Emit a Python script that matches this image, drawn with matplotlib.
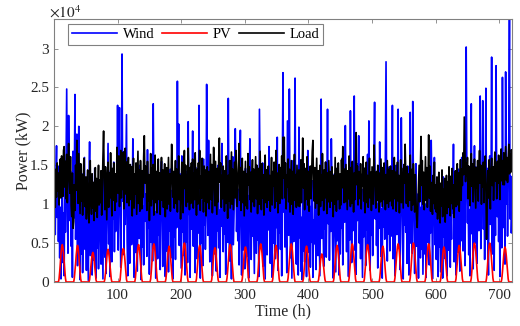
import numpy as np
import matplotlib
matplotlib.use("Agg")
import matplotlib.pyplot as plt
from matplotlib.ticker import FuncFormatter, MultipleLocator

# hourly values over 30 days, in 10^3 kW (one row per day)
wind_k = [
    [10.2, 6.1, 13.4, 17.5, 8.3, 14.9, 5.2, 11.8, 3.1, 9.6, 0.4, 7.7, 12.3, 2.5, 8.9, 0.8, 13.6, 6.4, 15.2, 24.8, 9.1, 3.7, 21.4, 12.6],
    [7.9, 14.2, 4.6, 11.3, 0.6, 16.8, 8.2, 13.1, 24.1, 5.5, 10.7, 19.0, 2.1, 12.4, 20.0, 6.8, 0.3, 9.4, 3.6, 13.9, 1.2, 7.3, 11.6, 16.0],
    [4.2, 9.8, 1.5, 12.7, 6.3, 0.2, 10.9, 18.0, 3.4, 8.6, 13.2, 0.9, 5.7, 11.4, 2.8, 14.6, 7.1, 0.5, 9.3, 4.4, 12.1, 1.7, 6.9, 10.5],
    [8.4, 2.3, 11.7, 5.9, 0.4, 13.5, 7.6, 3.2, 10.1, 1.1, 6.7, 12.8, 17.8, 4.9, 9.5, 0.7, 14.3, 6.2, 2.6, 11.2, 8.1, 15.4, 3.9, 12.9],
    [6.5, 13.8, 9.2, 22.7, 4.1, 15.6, 22.4, 8.8, 1.9, 12.2, 29.3, 10.4, 16.7, 3.5, 11.1, 7.4, 14.8, 21.5, 5.3, 0.8, 13.0, 8.7, 2.4, 10.6],
    [12.5, 4.8, 9.9, 18.4, 7.2, 0.6, 13.3, 3.8, 11.5, 6.1, 1.4, 10.2, 14.1, 5.6, 15.0, 8.9, 0.3, 12.0, 4.5, 9.7, 2.2, 13.6, 7.8, 11.3],
    [9.1, 3.3, 17.0, 6.9, 12.6, 1.0, 10.8, 5.1, 14.4, 8.0, 2.7, 22.9, 11.9, 4.3, 9.0, 0.5, 13.7, 7.0, 3.0, 12.3, 6.0, 10.0, 1.6, 14.0],
    [15.5, 8.6, 2.0, 11.0, 5.4, 13.4, 0.7, 9.6, 4.0, 12.4, 7.5, 1.3, 10.3, 6.6, 14.5, 3.1, 8.3, 11.8, 0.4, 13.0, 5.8, 9.4, 2.9, 12.1],
    [7.0, 25.8, 10.6, 20.3, 4.7, 13.9, 8.2, 1.8, 16.2, 6.4, 11.6, 3.4, 12.8, 0.9, 9.8, 5.2, 14.2, 2.5, 20.6, 8.7, 11.4, 0.6, 13.3, 6.8],
    [10.9, 19.4, 4.6, 12.7, 7.9, 1.2, 14.7, 9.3, 3.0, 11.5, 6.3, 22.7, 8.5, 0.5, 13.1, 5.0, 10.4, 2.1, 15.8, 7.3, 12.0, 4.2, 9.0, 25.4],
    [11.7, 6.0, 18.2, 9.6, 2.6, 13.6, 5.5, 10.1, 0.8, 14.0, 7.7, 3.6, 12.2, 8.9, 1.4, 11.0, 6.6, 15.0, 4.4, 9.2, 0.6, 12.6, 7.2, 17.8],
    [8.0, 3.9, 12.9, 6.2, 10.7, 1.0, 14.9, 9.7, 5.1, 23.6, 11.3, 2.7, 13.5, 7.1, 0.4, 10.2, 16.1, 4.8, 8.8, 12.4, 19.7, 14.4, 6.5, 9.9],
    [5.3, 11.9, 2.2, 13.8, 19.5, 7.6, 0.9, 10.5, 4.1, 12.7, 8.4, 1.7, 14.6, 6.0, 9.5, 3.3, 11.1, 0.5, 13.2, 18.4, 7.8, 2.9, 10.8, 5.9],
    [12.1, 6.9, 1.1, 14.2, 8.1, 3.7, 11.6, 5.4, 9.8, 0.7, 22.2, 13.0, 4.3, 10.0, 7.4, 15.3, 2.0, 12.5, 6.1, 0.4, 11.2, 8.6, 3.5, 13.7],
    [6.7, 17.4, 10.3, 2.4, 13.1, 8.2, 0.6, 11.7, 5.0, 14.1, 9.2, 3.0, 12.6, 7.0, 18.6, 1.5, 10.9, 6.3, 13.4, 4.2, 11.8, 0.8, 15.1, 26.9],
    [9.0, 14.8, 4.5, 11.4, 7.3, 1.2, 20.7, 12.9, 6.0, 24.8, 10.1, 3.1, 13.6, 0.5, 8.7, 15.6, 5.2, 11.0, 26.2, 7.9, 2.3, 12.3, 9.4, 0.9],
    [19.9, 5.7, 10.6, 1.4, 8.3, 0.3, 12.2, 4.0, 9.1, 2.6, 13.9, 6.4, 0.7, 10.4, 16.9, 3.8, 7.6, 11.5, 1.9, 9.7, 5.1, 13.0, 0.6, 8.0],
    [4.9, 11.3, 7.0, 1.6, 13.5, 9.3, 3.4, 12.0, 6.2, 0.8, 10.7, 23.5, 5.6, 14.3, 8.1, 2.0, 11.9, 6.8, 15.4, 3.2, 9.9, 22.2, 7.5, 12.8],
    [2.8, 10.1, 6.5, 18.4, 12.4, 4.6, 0.5, 9.0, 13.9, 7.2, 1.3, 11.6, 5.3, 14.7, 8.4, 0.9, 12.1, 3.6, 10.5, 6.9, 15.9, 2.2, 9.6, 13.1],
    [7.7, 20.1, 11.0, 3.9, 14.0, 8.8, 0.7, 12.7, 5.4, 22.0, 9.5, 2.5, 13.3, 6.6, 10.9, 23.9, 4.1, 12.0, 1.0, 15.2, 7.9, 11.4, 18.8, 5.0],
    [10.8, 3.0, 13.2, 7.4, 0.6, 11.9, 5.8, 14.6, 9.0, 2.1, 12.5, 6.7, 16.4, 4.3, 20.7, 8.5, 1.5, 11.1, 6.0, 13.8, 3.4, 10.2, 15.7, 23.1],
    [8.1, 12.9, 4.7, 10.0, 1.8, 14.1, 6.9, 18.0, 11.5, 3.3, 9.4, 0.5, 13.6, 7.1, 12.3, 5.5, 16.6, 28.3, 9.8, 2.7, 11.7, 6.2, 14.8, 4.0],
    [12.6, 5.9, 9.1, 22.7, 3.0, 13.4, 7.8, 0.8, 11.2, 15.0, 6.1, 10.6, 22.2, 4.4, 12.0, 1.6, 8.9, 21.1, 13.7, 5.2, 0.4, 10.3, 7.3, 14.2],
    [6.4, 11.8, 2.4, 14.9, 8.6, 0.9, 12.1, 21.8, 5.0, 10.4, 3.7, 23.2, 13.0, 7.0, 1.1, 9.9, 15.2, 4.6, 11.3, 6.8, 0.5, 12.7, 8.2, 3.1],
    [9.6, 4.2, 12.3, 1.0, 7.5, 13.1, 3.6, 10.0, 0.6, 8.8, 11.9, 5.1, 14.0, 2.2, 9.2, 6.3, 18.2, 12.5, 0.4, 7.0, 10.7, 16.0, 4.8, 11.1],
    [2.9, 10.2, 6.6, 0.7, 12.8, 4.5, 8.1, 1.3, 11.4, 7.2, 0.5, 13.5, 5.8, 9.4, 3.0, 12.0, 6.9, 0.8, 10.9, 4.1, 14.2, 7.7, 1.9, 9.0],
    [5.5, 12.4, 8.9, 17.7, 2.6, 11.0, 6.4, 0.9, 13.6, 9.7, 3.8, 14.5, 7.1, 1.4, 10.8, 5.3, 16.0, 12.2, 4.0, 8.5, 13.9, 2.1, 11.6, 30.2],
    [14.4, 7.6, 11.2, 3.5, 9.3, 0.8, 13.0, 22.9, 6.2, 12.7, 1.7, 10.1, 17.5, 5.0, 14.8, 8.3, 2.4, 11.9, 15.6, 6.6, 12.2, 23.9, 4.3, 9.8],
    [10.5, 23.3, 6.8, 13.3, 2.9, 11.6, 24.9, 8.0, 14.6, 4.7, 0.9, 12.5, 16.2, 7.4, 10.9, 28.9, 3.6, 13.8, 9.2, 1.5, 15.3, 6.0, 27.8, 11.7],
    [8.4, 14.0, 5.2, 12.1, 0.7, 9.9, 16.8, 4.4, 26.3, 11.3, 7.0, 13.2, 2.3, 27.0, 10.0, 15.5, 5.9, 12.8, 18.9, 33.8, 8.1, 13.6, 6.3, 8.9],
]

load_k = [
    [12.8, 9.6, 14.5, 10.9, 15.3, 11.7, 14.0, 9.9, 13.2, 15.8, 10.8, 16.2, 12.6, 11.0, 16.9, 17.4, 12.2, 15.5, 10.7, 16.4, 10.2, 14.6, 17.8, 13.5],
    [11.4, 16.1, 9.8, 8.4, 14.0, 6.9, 7.8, 12.5, 9.2, 15.0, 11.8, 18.2, 13.9, 10.1, 16.5, 12.3, 8.8, 15.2, 10.4, 13.8, 8.6, 12.9, 15.9, 10.6],
    [9.7, 13.5, 8.1, 12.6, 14.4, 9.0, 7.6, 12.9, 15.6, 10.3, 8.7, 13.9, 9.5, 12.8, 7.9, 11.9, 14.7, 9.1, 13.3, 8.3, 11.6, 15.0, 9.9, 13.1],
    [10.2, 14.3, 8.6, 12.7, 16.1, 19.4, 12.9, 9.3, 14.8, 11.2, 8.0, 13.6, 15.4, 9.6, 14.0, 10.8, 16.6, 11.9, 8.5, 14.6, 10.5, 15.3, 12.4, 9.2],
    [13.9, 10.3, 17.3, 14.6, 11.4, 16.2, 9.7, 14.1, 16.9, 10.8, 15.7, 11.9, 16.7, 9.4, 14.5, 17.2, 11.3, 15.4, 10.2, 13.4, 16.0, 9.8, 12.9, 15.1],
    [10.6, 14.8, 8.5, 13.2, 15.9, 9.5, 13.9, 11.3, 15.3, 8.7, 12.5, 16.8, 10.1, 14.4, 9.1, 15.6, 12.2, 9.4, 14.3, 10.9, 16.1, 18.8, 12.7, 14.9],
    [12.9, 9.2, 15.5, 10.4, 13.8, 7.9, 12.6, 16.5, 9.8, 14.6, 10.7, 15.1, 8.6, 12.1, 16.3, 10.2, 14.2, 8.9, 13.0, 15.8, 10.6, 14.0, 8.7, 12.3],
    [16.0, 10.5, 14.4, 9.6, 13.3, 15.2, 8.4, 12.4, 14.7, 9.4, 12.8, 16.0, 10.0, 13.9, 9.1, 13.0, 17.7, 14.6, 10.9, 14.2, 9.5, 12.9, 15.6, 10.1],
    [14.5, 9.0, 13.1, 16.2, 10.6, 13.7, 8.1, 12.5, 15.4, 10.8, 8.9, 14.1, 16.9, 12.0, 15.0, 9.7, 13.8, 10.3, 17.2, 12.8, 9.3, 14.7, 10.1, 15.3],
    [11.7, 15.8, 9.5, 14.0, 10.6, 16.6, 12.7, 8.6, 14.5, 10.0, 15.3, 12.1, 16.9, 9.2, 13.6, 10.8, 15.9, 12.8, 9.0, 14.9, 10.4, 14.4, 8.5, 13.2],
    [14.8, 10.2, 14.2, 9.4, 13.1, 16.4, 10.6, 15.1, 8.9, 12.7, 17.3, 13.5, 9.8, 15.5, 12.1, 8.7, 14.6, 10.3, 16.0, 18.5, 12.8, 15.3, 9.6, 13.7],
    [10.7, 14.9, 12.5, 9.1, 14.3, 10.1, 16.2, 12.0, 8.2, 13.7, 10.4, 15.6, 9.5, 12.9, 16.7, 10.0, 14.5, 9.3, 12.3, 15.4, 10.8, 16.9, 13.9, 9.7],
    [12.6, 15.1, 17.8, 10.5, 14.7, 9.2, 13.2, 15.9, 10.2, 14.2, 8.5, 12.2, 15.5, 9.8, 13.9, 9.4, 16.5, 12.5, 14.8, 10.6, 14.1, 9.0, 13.0, 15.7],
    [10.3, 14.5, 9.7, 12.8, 16.1, 10.7, 15.0, 8.8, 12.4, 14.6, 10.0, 16.8, 12.9, 9.3, 15.2, 10.8, 13.8, 8.6, 12.1, 16.3, 10.2, 14.4, 9.6, 13.1],
    [14.9, 10.5, 13.7, 9.1, 12.9, 16.0, 9.9, 14.2, 12.3, 15.4, 9.5, 12.6, 16.9, 10.4, 14.0, 8.9, 13.0, 15.1, 10.1, 14.7, 12.1, 16.2, 10.7, 18.6],
    [13.4, 18.6, 10.8, 15.3, 9.4, 13.7, 12.2, 15.8, 10.3, 14.5, 9.0, 12.6, 15.6, 10.0, 14.2, 8.7, 13.0, 16.4, 10.5, 13.8, 9.6, 15.0, 12.4, 9.8],
    [14.4, 9.7, 12.5, 15.7, 10.2, 13.9, 18.5, 12.1, 15.2, 9.3, 14.6, 10.6, 13.0, 16.1, 9.9, 14.2, 9.1, 12.7, 14.9, 10.7, 13.6, 16.8, 18.2, 12.3],
    [10.4, 14.7, 9.5, 12.9, 15.9, 10.1, 14.3, 8.6, 12.5, 15.0, 9.7, 13.8, 10.5, 16.5, 12.4, 9.2, 14.4, 10.8, 15.4, 12.2, 8.8, 14.0, 10.3, 15.6],
    [12.7, 9.6, 14.2, 10.4, 14.8, 12.3, 8.4, 13.7, 10.0, 16.0, 12.8, 9.1, 14.6, 10.6, 15.3, 12.5, 9.4, 13.9, 9.9, 15.7, 12.1, 17.4, 14.2, 10.2],
    [14.5, 10.3, 15.1, 12.2, 9.3, 14.3, 10.7, 16.2, 12.6, 9.7, 14.7, 10.1, 15.5, 12.9, 9.0, 14.0, 10.6, 15.8, 19.2, 12.5, 14.9, 9.9, 14.2, 13.0],
    [10.7, 15.2, 9.4, 13.8, 12.3, 16.1, 10.4, 14.6, 8.9, 12.8, 15.4, 10.2, 13.7, 9.6, 12.6, 15.9, 10.8, 14.1, 9.2, 14.8, 12.4, 10.0, 17.6, 13.9],
    [12.2, 9.5, 14.2, 10.5, 15.0, 12.9, 9.0, 14.0, 10.3, 15.8, 12.7, 9.7, 14.7, 10.6, 15.3, 12.1, 9.3, 13.8, 10.1, 15.6, 12.5, 9.6, 14.5, 10.4],
    [14.9, 12.6, 9.8, 14.3, 9.4, 13.0, 16.0, 10.7, 14.1, 9.1, 12.8, 15.4, 10.4, 13.7, 8.9, 12.4, 15.7, 10.2, 14.6, 12.1, 9.5, 15.1, 12.7, 17.7],
    [14.2, 10.1, 14.8, 12.5, 9.7, 13.9, 10.5, 16.3, 12.2, 9.2, 14.5, 9.9, 15.2, 12.9, 9.0, 13.8, 10.6, 8.3, 7.0, 9.7, 12.6, 15.0, 10.3, 14.3],
    [18.7, 12.4, 15.6, 10.0, 14.1, 9.3, 13.0, 16.1, 10.5, 14.7, 9.6, 12.3, 18.9, 10.8, 14.9, 9.1, 12.8, 10.3, 8.7, 13.7, 10.1, 15.4, 9.4, 12.5],
    [9.0, 13.5, 8.1, 11.6, 14.1, 9.3, 7.6, 12.7, 9.8, 14.4, 8.4, 11.9, 9.2, 13.3, 7.7, 11.2, 13.7, 8.8, 12.9, 9.6, 14.8, 10.3, 8.5, 13.6],
    [10.1, 14.6, 9.4, 12.5, 8.3, 12.0, 14.3, 9.7, 13.4, 15.2, 9.9, 14.0, 9.1, 12.8, 15.7, 10.5, 14.5, 12.4, 16.6, 13.8, 21.2, 16.9, 12.9, 15.3],
    [13.7, 16.0, 10.7, 14.9, 12.6, 9.8, 14.3, 16.5, 12.3, 15.2, 10.3, 14.0, 15.8, 12.8, 9.5, 14.7, 12.1, 15.6, 10.4, 14.2, 16.9, 12.7, 15.0, 10.0],
    [14.6, 12.2, 15.4, 10.2, 13.9, 16.2, 12.5, 5.5, 9.6, 14.3, 10.8, 15.7, 12.9, 9.4, 14.5, 15.9, 12.4, 14.8, 10.5, 13.8, 16.7, 13.0, 15.1, 10.7],
    [15.5, 12.7, 16.3, 13.4, 10.6, 15.0, 17.1, 13.0, 15.6, 12.5, 16.6, 12.5, 14.9, 17.4, 13.1, 16.0, 12.8, 15.3, 17.7, 13.9, 16.4, 14.1, 17.0, 15.4],
]

# PV output for daylight hours 06:00-18:00 of each day (zero at night)
pv_day_k = [
    [0, 0.4, 1.3, 2.5, 3.6, 4.4, 4.8, 4.5, 3.7, 2.6, 1.4, 0.5, 0],
    [0, 0.5, 1.4, 2.4, 3.5, 4.3, 4.7, 4.4, 3.5, 2.4, 1.3, 0.4, 0],
    [0, 0.3, 1.1, 2.0, 2.9, 3.5, 3.8, 3.6, 3.0, 2.1, 1.1, 0.3, 0],
    [0, 0.4, 1.2, 2.2, 3.2, 3.9, 4.2, 3.8, 3.1, 2.2, 1.2, 0.4, 0],
    [0, 0.3, 1.3, 2.3, 3.4, 4.0, 4.3, 4.1, 3.3, 2.3, 1.2, 0.3, 0],
    [0, 0.5, 1.5, 2.6, 3.7, 4.5, 4.8, 4.4, 3.6, 2.5, 1.4, 0.4, 0],
    [0, 0.4, 1.4, 2.6, 3.8, 4.6, 4.9, 4.6, 3.8, 2.7, 1.5, 0.5, 0],
    [0, 0.4, 1.3, 2.4, 3.5, 4.2, 4.6, 4.3, 3.5, 2.4, 1.3, 0.4, 0],
    [0, 0.5, 1.5, 2.7, 3.9, 4.7, 5.0, 4.7, 3.9, 2.7, 1.5, 0.5, 0],
    [0, 0.4, 1.4, 2.5, 3.6, 4.4, 4.7, 4.4, 3.6, 2.5, 1.3, 0.4, 0],
    [0, 0.3, 1.2, 2.3, 3.4, 4.1, 4.4, 4.2, 3.3, 2.3, 1.2, 0.3, 0],
    [0, 0.5, 1.4, 2.6, 3.7, 4.5, 4.8, 4.5, 3.7, 2.6, 1.4, 0.5, 0],
    [0, 0.4, 1.3, 2.4, 3.5, 4.2, 4.5, 4.2, 3.4, 2.4, 1.3, 0.4, 0],
    [0, 0.4, 1.5, 2.6, 3.8, 4.6, 4.9, 4.5, 3.7, 2.6, 1.4, 0.4, 0],
    [0, 0.4, 1.4, 2.5, 3.6, 4.4, 4.7, 4.4, 3.6, 2.5, 1.4, 0.4, 0],
    [0, 0.5, 1.5, 2.7, 3.8, 4.6, 4.9, 4.6, 3.8, 2.6, 1.5, 0.5, 0],
    [0, 0.4, 1.3, 2.4, 3.5, 4.3, 4.6, 4.3, 3.5, 2.4, 1.3, 0.4, 0],
    [0, 0.3, 1.0, 1.9, 2.7, 3.3, 3.6, 3.4, 2.8, 1.9, 1.0, 0.3, 0],
    [0, 0.4, 1.4, 2.5, 3.6, 4.4, 4.7, 4.4, 3.6, 2.5, 1.4, 0.4, 0],
    [0, 0.5, 1.5, 2.6, 3.8, 4.6, 4.9, 4.6, 3.7, 2.6, 1.5, 0.4, 0],
    [0, 0.4, 1.4, 2.6, 3.7, 4.5, 4.8, 4.5, 3.7, 2.6, 1.4, 0.4, 0],
    [0, 0.4, 1.3, 2.4, 3.5, 4.3, 4.6, 4.3, 3.5, 2.4, 1.3, 0.4, 0],
    [0, 0.5, 1.5, 2.7, 3.8, 4.6, 4.9, 4.6, 3.8, 2.7, 1.5, 0.5, 0],
    [0, 0.5, 1.5, 2.7, 3.9, 4.7, 5.0, 4.7, 3.9, 2.7, 1.5, 0.5, 0],
    [0, 0.4, 1.4, 2.6, 3.8, 4.6, 4.9, 4.6, 3.8, 2.6, 1.4, 0.4, 0],
    [0, 0.4, 1.3, 2.4, 3.4, 4.2, 4.5, 4.2, 3.4, 2.4, 1.3, 0.4, 0],
    [0, 0.4, 1.4, 2.5, 3.6, 4.4, 4.7, 4.4, 3.6, 2.5, 1.4, 0.4, 0],
    [0, 0.5, 1.5, 2.7, 3.9, 4.7, 5.0, 4.7, 3.9, 2.7, 1.5, 0.5, 0],
    [0, 0.5, 1.5, 2.7, 3.9, 4.7, 5.0, 4.6, 3.8, 2.7, 1.5, 0.5, 0],
    [0, 0.4, 1.3, 2.4, 3.4, 4.2, 4.5, 4.2, 3.4, 2.4, 1.3, 0.4, 0],
]

series_names = ["Wind", "PV", "Load"]
x_ticks = [100, 200, 300, 400, 500, 600, 700]

for rows in (wind_k, load_k):
    for r in rows:
        assert len(r) == 24, len(r)

wind = np.array(wind_k).ravel() * 1000
load = np.array(load_k).ravel() * 1000
pv_full = np.zeros((len(pv_day_k), 24))
pv_full[:, 6:19] = np.array(pv_day_k)
pv = pv_full.ravel() * 1000
hours = np.arange(1, len(wind) + 1)

plt.rcParams['font.family'] = ['Liberation Serif', 'DejaVu Serif']
plt.rcParams['mathtext.fontset'] = 'stix'

fig = plt.figure(figsize=(5.2, 3.26), dpi=100)
ax = fig.add_axes([0.1038, 0.135, 0.8808, 0.8067])

ax.plot(hours, wind, color='#0000ff', lw=1.2, label=series_names[0])
ax.plot(hours, pv, color='#ff0000', lw=1.2, label=series_names[1])
ax.plot(hours, load, color='black', lw=1.2, label=series_names[2])

ax.set_xlim(0, hours[-1])
ax.set_ylim(0, max(wind.max(), load.max(), pv.max()))
ax.set_xticks(x_ticks)
ax.yaxis.set_major_locator(MultipleLocator(5000))
ax.yaxis.set_major_formatter(FuncFormatter(lambda v, p: ('%g' % (v / 1e4))))

spine_c = '#808080'
for s in ax.spines.values():
    s.set_color(spine_c)
    s.set_linewidth(0.8)
ax.tick_params(direction='in', length=3, width=0.6, color=spine_c,
               labelsize=11, labelcolor='#262626', top=True, right=True)
ax.tick_params(axis='x', pad=5)

ax.set_xlabel('Time (h)', fontsize=11.5, color='#262626', labelpad=1)
ax.set_ylabel('Power (kW)', fontsize=11.5, color='#262626', labelpad=-1)
ax.text(-0.01, 0.995, r'$\times10^{4}$', transform=ax.transAxes, ha='left',
        va='bottom', fontsize=11, color='#262626')

leg = ax.legend(loc='upper left', bbox_to_anchor=(0.031, 0.981), ncol=3,
                frameon=True, fancybox=False, fontsize=10.5, handlelength=3.1,
                borderaxespad=0, columnspacing=0.5, handletextpad=0.4,
                borderpad=0.25)
leg.get_frame().set_edgecolor('#808080')
leg.get_frame().set_linewidth(0.8)
leg.get_frame().set_alpha(1)

fig.savefig('out.png', dpi=100)
